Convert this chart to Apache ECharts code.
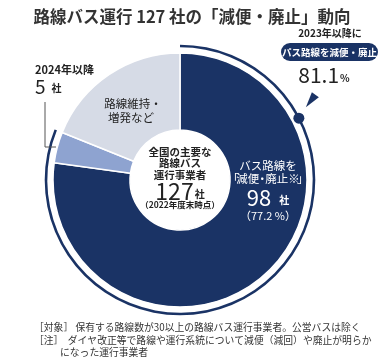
<!DOCTYPE html>
<html><head><meta charset="utf-8">
<script src="https://cdn.jsdelivr.net/npm/echarts@6/dist/echarts.min.js"></script>
<style>html,body{margin:0;padding:0;background:#fff}#c{width:384px;height:360px}</style>
</head><body><div id="c"></div>
<script>
const categories = ['バス路線を「減便・廃止」', '2024年以降', '路線維持・増発など'];
const values = [98, 5, 24];
const total = 127;
const share2023 = 81.1;
const colors = ['#1a3365', '#8ea3d0', '#d6dbe6'];
const FONT = '"Noto Sans CJK JP", "Noto Sans", sans-serif';
const cx = 180, cy = 180, R = 127, r0 = 50, Rarc = 134;
const dotAngle = 62.5 * Math.PI / 180;
const dotX = cx + Rarc * Math.sin(dotAngle), dotY = cy - Rarc * Math.cos(dotAngle);

const chart = echarts.init(document.getElementById('c'), null, {renderer: 'canvas'});
function t(x, y, text, size, opts) {
  opts = opts || {};
  return {type: 'text', x: x, y: y, z: 100, style: Object.assign({text: text, font: (opts.weight || 'normal') + ' ' + size + 'px ' + FONT, fill: '#222', align: 'center', verticalAlign: 'middle'}, opts.style || {})};
}
function rich(x, y, a, b, aSize, bSize, fill, pad, align) {
  return {type: 'text', x: x, y: y, z: 100, style: {rich: {a: {fontSize: aSize, fontFamily: FONT, fill: fill}, b: {fontSize: bSize, fontFamily: FONT, fill: fill, padding: pad, fontWeight: 'bold'}}, text: '{a|' + a + '}{b|' + b + '}', align: align || 'center', verticalAlign: 'middle'}};
}
const fs = 11.5;
const narrow = function (al) { return {fontSize: fs, fontFamily: FONT, fill: '#fff', width: 6, align: al}; };
chart.setOption({
  animation: false,
  title: {text: '路線バス運行 127 社の「減便・廃止」動向', left: 'center', top: 3,
    textStyle: {fontFamily: FONT, fontSize: 16.5, fontWeight: 'bold', color: '#333'}},
  series: [
    {type: 'pie', radius: [r0, R], center: [cx, cy], startAngle: 90, clockwise: true, silent: true,
     label: {show: false}, labelLine: {show: false},
     itemStyle: {borderColor: '#fff', borderWidth: 1.5},
     data: categories.map((c, i) => ({name: c, value: values[i], itemStyle: {color: colors[i]}}))},
    {type: 'pie', radius: [Rarc - 1.3, Rarc + 1.3], center: [cx, cy], startAngle: 90, clockwise: true, silent: true,
     label: {show: false}, labelLine: {show: false},
     data: [{value: values[0] + values[1], itemStyle: {color: colors[0]}}, {value: values[2], itemStyle: {color: 'rgba(0,0,0,0)'}}]}
  ],
  graphic: [
    {type: 'circle', z: 100, shape: {cx: dotX, cy: dotY, r: 5.5}, style: {fill: colors[0]}},
    {type: 'polygon', z: 100, shape: {points: [[dotX + 7, dotY - 11], [dotX + 13, dotY - 26], [dotX + 20, dotY - 21]]}, style: {fill: colors[0]}},
    t(330, 33, '2023年以降に', 10, {weight: 'bold'}),
    {type: 'rect', z: 100, shape: {x: 281, y: 43, width: 97, height: 18, r: 9}, style: {fill: colors[0]}},
    t(329.5, 52, 'パス路線を減便・廃止', 9.5, {weight: 'bold', style: {fill: '#fff'}}),
    rich(324, 75, share2023, '%', 21, 10, '#222', [6, 0, 0, 1]),
    t(35, 70, '2024年以降', 11, {weight: 'bold', style: {align: 'left'}}),
    rich(35, 87, values[1], '社', 19, 10, '#222', [3, 0, 0, 6], 'left'),
    {type: 'polyline', z: 100, shape: {points: [[45, 102], [45, 147], [56, 147]]}, style: {stroke: '#555', lineWidth: 1, fill: null}},
    t(133, 104, '路線維持・', 11.5),
    t(131, 118, '増発など', 11.5),
    t(180, 152, '全国の主要な', 10.5, {weight: 'bold'}),
    t(180, 163.5, '路線バス', 10.5, {weight: 'bold'}),
    t(180, 175, '運行事業者', 10.5, {weight: 'bold'}),
    rich(180, 191, total, '社', 23, 10, '#222', [6, 0, 0, 1]),
    t(180, 205, '（2022年度末時点）', 8.5, {weight: 'bold'}),
    t(268, 166, 'バス路線を', fs, {style: {fill: '#fff'}}),
    {type: 'text', x: 268, y: 179, z: 100, style: {
      rich: {m: {fontSize: fs, fontFamily: FONT, fill: '#fff'}, l: narrow('right'), r: narrow('left'), d: narrow('center')},
      text: '{l|「}{m|減便}{d|・}{m|廃止※}{r|」}', align: 'center', verticalAlign: 'middle'}},
    rich(268, 198, values[0], '社', 22, 10, '#fff', [4, 0, 0, 8]),
    t(268, 216, '（77.2 %）', 11, {style: {fill: '#fff'}}),
    t(34, 327, '［対象］ 保有する路線数が30以上の路線バス運行事業者。公営バスは除く', 9.8, {style: {align: 'left', fill: '#333'}}),
    t(34, 340, '［注］  ダイヤ改正等で路線や運行系統について減便（減回）や廃止が明らか', 9.8, {style: {align: 'left', fill: '#333'}}),
    t(60, 352, 'になった運行事業者', 9.8, {style: {align: 'left', fill: '#333'}})
  ]
});
</script></body></html>
